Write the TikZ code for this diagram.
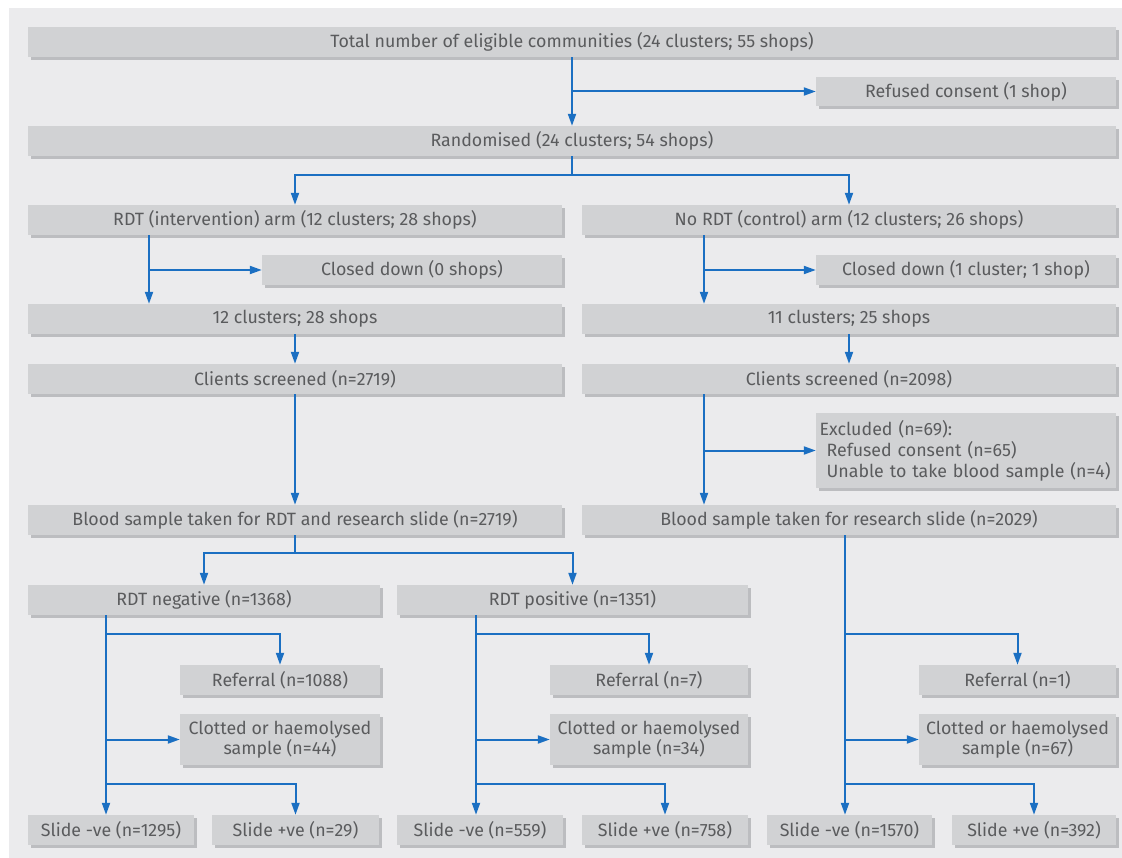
\documentclass[tikz,border=0pt]{standalone}
\usepackage{fontspec}
\setmainfont{Fira Sans}
\usetikzlibrary{arrows.meta,shadows}
\definecolor{panel}{HTML}{EBEBED}
\definecolor{boxg}{HTML}{D1D2D4}
\definecolor{shd}{HTML}{BCBDC0}
\definecolor{txt}{HTML}{5A5B5D}
\definecolor{blu}{HTML}{1B6FC2}
\newcommand{\mkbox}[6]{%
  \node[fbox, minimum width={(#4)-(#2)}, minimum height={(#5)-(#3)}] (#1) at ({((#2)+(#4))/2},{((#3)+(#5))/2}) {#6};}
\tikzset{
  fbox/.style={fill=boxg, draw=none, inner sep=0pt, align=center, text=txt,
    font=\fontsize{17.8}{20.5}\selectfont,
    drop shadow={shadow xshift=3pt, shadow yshift=-3pt, fill=shd, opacity=1}},
  conn/.style={draw=blu, line width=2pt},
  arr/.style={conn, -{Triangle[length=12pt,width=8pt]}}
}
\begin{document}
\begin{tikzpicture}[x=1pt,y=-1pt]
\useasboundingbox (0,0) rectangle (1122,858);
\fill[white] (0,0) rectangle (1122,858);
\fill[panel] (9,8) rectangle (1122,858);
% boxes
\mkbox{tot}{28}{27}{1116}{57}{Total number of eligible communities (24 clusters; 55 shops)}
\mkbox{ref}{816}{77}{1116}{106}{Refused consent (1 shop)}
\mkbox{rand}{28}{126}{1116}{156}{Randomised (24 clusters; 54 shops)}
\mkbox{rdt}{28}{205}{562}{235}{RDT (intervention) arm (12 clusters; 28 shops)}
\mkbox{nordt}{582}{205}{1116}{235}{No RDT (control) arm (12 clusters; 26 shops)}
\mkbox{cdA}{262}{255}{562}{285}{Closed down (0 shops)}
\mkbox{cdB}{816}{255}{1116}{285}{Closed down (1 cluster; 1 shop)}
\mkbox{clA}{28}{304}{562}{334}{12 clusters; 28 shops}
\mkbox{clB}{582}{304}{1116}{334}{11 clusters; 25 shops}
\mkbox{csA}{28}{364}{562}{394}{Clients screened (n=2719)}
\mkbox{csB}{582}{364}{1116}{394}{Clients screened (n=2098)}
\node[fbox, minimum width=300pt, minimum height=75pt, text width=293pt, align=left,
  font=\fontsize{17.8}{21}\selectfont] (exc) at (966,450.5)
  {Excluded (n=69):\\\hspace*{0.4em}Refused consent (n=65)\\\hspace*{0.4em}Unable to take blood sample (n=4)};
\mkbox{bsA}{28}{505}{562}{535}{Blood sample taken for RDT and research slide (n=2719)}
\mkbox{bsB}{582}{505}{1116}{535}{Blood sample taken for research slide (n=2029)}
\mkbox{neg}{28}{585}{380}{615}{RDT negative (n=1368)}
\mkbox{pos}{397}{585}{748}{615}{RDT positive (n=1351)}
\mkbox{rfA}{180}{665}{380}{695}{Referral (n=1088)}
\mkbox{rfB}{550}{665}{748}{695}{Referral (n=7)}
\mkbox{rfC}{919}{665}{1116}{695}{Referral (n=1)}
\mkbox{ctA}{180}{714}{380}{765}{Clotted or haemolysed\\sample (n=44)}
\mkbox{ctB}{550}{714}{748}{765}{Clotted or haemolysed\\sample (n=34)}
\mkbox{ctC}{919}{714}{1116}{765}{Clotted or haemolysed\\sample (n=67)}
\mkbox{snA}{28}{815}{194}{845}{Slide -ve (n=1295)}
\mkbox{spA}{212}{815}{379}{845}{Slide +ve (n=29)}
\mkbox{snB}{397}{815}{563}{845}{Slide -ve (n=559)}
\mkbox{spB}{582}{815}{748}{845}{Slide +ve (n=758)}
\mkbox{snC}{767}{815}{932}{845}{Slide -ve (n=1570)}
\mkbox{spC}{952}{815}{1116}{845}{Slide +ve (n=392)}
% x positions of trunks
\coordinate (xa) at (149,0);
\coordinate (xb) at (704,0);
\coordinate (xn) at (106,0);
\coordinate (xp) at (476,0);
\coordinate (xr) at (845,0);
\coordinate (jr) at (572,175);
\coordinate (jb) at (295,553);
\coordinate (jn1) at (106,634);
\coordinate (jn3) at (106,784);
\coordinate (jp1) at (476,634);
\coordinate (jp3) at (476,784);
\coordinate (jr1) at (845,634);
\coordinate (jr3) at (845,784);
% connectors
\draw[arr] (tot.south) -- (rand.north);
\draw[arr] (tot.south |- ref.west) -- (ref.west);
\draw[conn] (rand.south) -- (jr);
\draw[arr] (jr) -| (rdt.north);
\draw[arr] (jr) -| (nordt.north);
\draw[arr] (rdt.south -| xa) -- (clA.north -| xa);
\draw[arr] (cdA.west -| xa) -- (cdA.west);
\draw[arr] (nordt.south -| xb) -- (clB.north -| xb);
\draw[arr] (cdB.west -| xb) -- (cdB.west);
\draw[arr] (clA.south) -- (csA.north);
\draw[arr] (clB.south) -- (csB.north);
\draw[arr] (csA.south) -- (bsA.north);
\draw[arr] (csB.south -| xb) -- (bsB.north -| xb);
\draw[arr] (exc.west -| xb) -- (exc.west);
\draw[conn] (bsA.south) -- (jb);
\draw[arr] (jb) -| (neg.north);
\draw[arr] (jb) -| (pos.north);
% RDT negative
\draw[arr] (neg.south -| xn) -- (snA.north -| xn);
\draw[arr] (jn1) -| (rfA.north);
\draw[arr] (ctA.west -| xn) -- (ctA.west);
\draw[arr] (jn3) -| (spA.north);
% RDT positive
\draw[arr] (pos.south -| xp) -- (snB.north -| xp);
\draw[arr] (jp1) -| (rfB.north);
\draw[arr] (ctB.west -| xp) -- (ctB.west);
\draw[arr] (jp3) -| (spB.north);
% research slide
\draw[arr] (bsB.south -| xr) -- (snC.north -| xr);
\draw[arr] (jr1) -| (rfC.north);
\draw[arr] (ctC.west -| xr) -- (ctC.west);
\draw[arr] (jr3) -| (spC.north);
\end{tikzpicture}
\end{document}
